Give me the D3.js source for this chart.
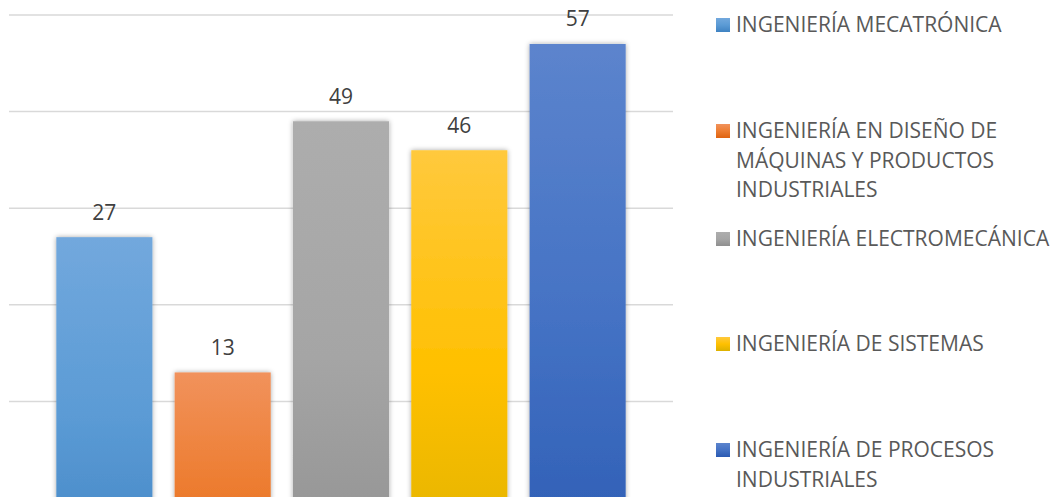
<!DOCTYPE html>
<html>
<head>
<meta charset="utf-8">
<script src="https://cdn.jsdelivr.net/npm/d3@7"></script>
<style>
  html, body { margin: 0; padding: 0; background: #fff; }
  svg { display: block; overflow: hidden; font-family: "Open Sans", sans-serif; }
</style>
</head>
<body>
<div id="chart"></div>
<script>
// series (one category, five series as in the source chart)
const series = [
  'INGENIERÍA MECATRÓNICA',
  'INGENIERÍA EN DISEÑO DE MÁQUINAS Y PRODUCTOS INDUSTRIALES',
  'INGENIERÍA ELECTROMECÁNICA',
  'INGENIERÍA DE SISTEMAS',
  'INGENIERÍA DE PROCESOS INDUSTRIALES'
];
// printed data labels
const labelValues = [27, 13, 49, 46, 57];
// bar heights as drawn in the picture (first two bars do not match their labels)
const barValues = [37, 23, 49, 46, 57];
// legend lines as wrapped in the picture
const legendLines = [
  ['INGENIERÍA MECATRÓNICA'],
  ['INGENIERÍA EN DISEÑO DE', 'MÁQUINAS Y PRODUCTOS', 'INDUSTRIALES'],
  ['INGENIERÍA ELECTROMECÁNICA'],
  ['INGENIERÍA DE SISTEMAS'],
  ['INGENIERÍA DE PROCESOS', 'INDUSTRIALES']
];
const gridTicks = [0, 10, 20, 30, 40, 50, 60];
const colors = ['#5b9bd5', '#ed7d31', '#a5a5a5', '#ffc000', '#4472c4'];
const gradTop = ['#72a8dd', '#f1925c', '#adadad', '#ffc93d', '#5c84cd'];
const gradBot = ['#3f82c2', '#df6310', '#8f8f8f', '#dcb100', '#2a5ab2'];

const w = 1053, h = 497;
const plot = { left: 9, right: 673, top: 15, bottom: 594.6 };

const svg = d3.select('#chart').append('svg')
  .attr('width', w)
  .attr('height', h);

const defs = svg.append('defs');
colors.forEach((c, i) => {
  const g = defs.append('linearGradient')
    .attr('id', 'grad' + i)
    .attr('x1', 0).attr('y1', 0).attr('x2', 0).attr('y2', 1);
  g.append('stop').attr('offset', '0%').attr('stop-color', gradTop[i]);
  g.append('stop').attr('offset', '50%').attr('stop-color', c);
  g.append('stop').attr('offset', '100%').attr('stop-color', gradBot[i]);
});
defs.append('filter')
  .attr('id', 'shadow')
  .attr('x', '-20%').attr('y', '-20%').attr('width', '140%').attr('height', '140%')
  .append('feDropShadow')
  .attr('dx', 0).attr('dy', 0)
  .attr('stdDeviation', 2.5)
  .attr('flood-color', '#000')
  .attr('flood-opacity', 0.35);

/* scales */
const x = d3.scaleBand()
  .domain(series)
  .range([plot.left, plot.right])
  .paddingInner(0.188)
  .paddingOuter(0.40);

const y = d3.scaleLinear()
  .domain([0, 60])
  .range([plot.bottom, plot.top]);

/* gridlines */
svg.append('g')
  .selectAll('line')
  .data(gridTicks)
  .join('line')
  .attr('x1', plot.left)
  .attr('x2', plot.right)
  .attr('y1', d => y(d))
  .attr('y2', d => y(d))
  .attr('stroke', '#d9d9d9')
  .attr('stroke-width', 1.5);

/* bars */
svg.append('g')
  .selectAll('rect')
  .data(series)
  .join('rect')
  .attr('x', d => x(d))
  .attr('y', (d, i) => y(barValues[i]))
  .attr('width', x.bandwidth())
  .attr('height', (d, i) => y(0) - y(barValues[i]))
  .attr('fill', (d, i) => `url(#grad${i})`)
  .attr('filter', 'url(#shadow)');

/* data labels */
svg.append('g')
  .selectAll('text')
  .data(series)
  .join('text')
  .attr('x', d => x(d) + x.bandwidth() / 2)
  .attr('y', (d, i) => y(barValues[i]) - 17.5)
  .attr('text-anchor', 'middle')
  .attr('font-size', 21)
  .attr('fill', '#404040')
  .text((d, i) => labelValues[i]);

/* legend */
const legendY = [32, 138, 246, 351, 457];
const lineH = 29.5;
const legend = svg.append('g')
  .selectAll('g')
  .data(series)
  .join('g')
  .attr('transform', (d, i) => `translate(716,${legendY[i]})`);

legend.append('rect')
  .attr('x', 0)
  .attr('y', -14)
  .attr('width', 14)
  .attr('height', 14)
  .attr('fill', (d, i) => `url(#grad${i})`);

legend.append('text')
  .attr('x', 20)
  .attr('font-size', 21)
  .attr('fill', '#595959')
  .selectAll('tspan')
  .data((d, i) => legendLines[i])
  .join('tspan')
  .attr('x', 20)
  .attr('dy', (d, j) => j === 0 ? 0 : lineH)
  .text(d => d);
</script>
</body>
</html>
